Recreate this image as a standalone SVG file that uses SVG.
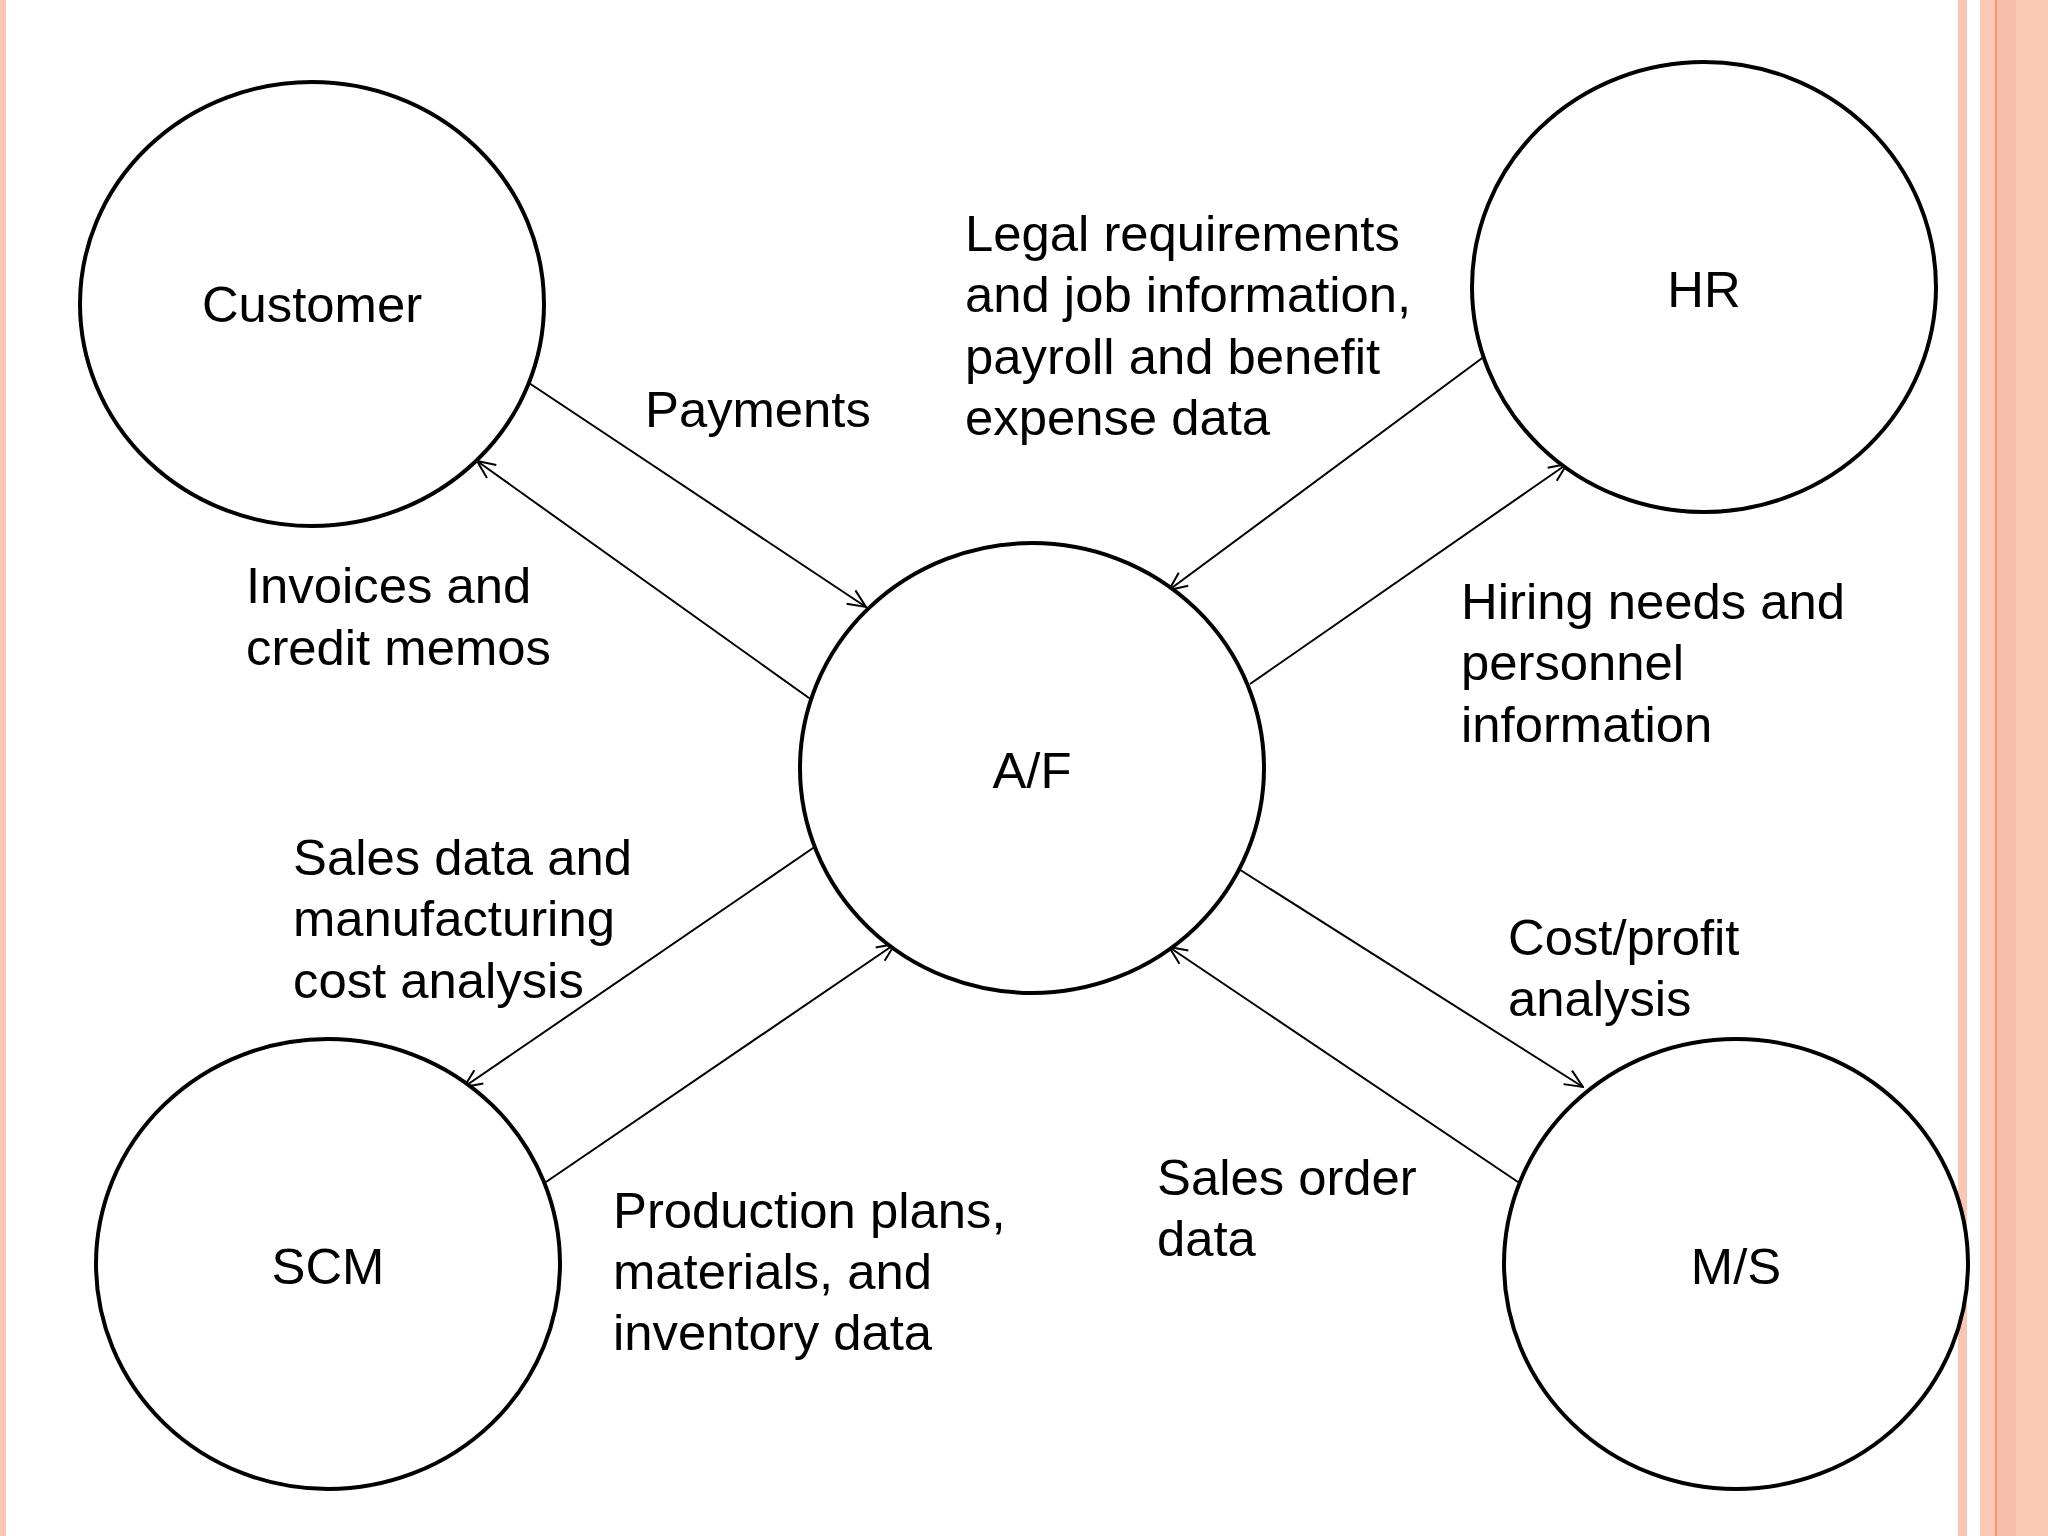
<svg xmlns="http://www.w3.org/2000/svg" width="2048" height="1536" viewBox="0 0 2048 1536">
<style>
.n{fill:#fff;stroke:#000;stroke-width:4}
.c{stroke:#000;stroke-width:2;fill:none;marker-end:url(#a)}
text{font-family:"Liberation Sans",Arial,sans-serif;font-size:50.8px;fill:#000}
.m{text-anchor:middle}
</style>
<defs><marker id="a" viewBox="0 0 20 20" refX="19" refY="10" markerWidth="20" markerHeight="20" markerUnits="userSpaceOnUse" orient="auto"><path d="M1,2 L19,10 L1,18" fill="none" stroke="#000" stroke-width="2"/></marker></defs>
<rect width="2048" height="1536" fill="#fff"/>
<rect x="0" y="0" width="6" height="1536" fill="#f9c6b4"/>
<rect x="1958" y="0" width="9" height="1536" fill="#f9c6b4"/>
<rect x="1980" y="0" width="68" height="1536" fill="#f9c9b6"/>
<rect x="1996" y="0" width="20" height="1536" fill="#f7bfab"/>
<line x1="1996" y1="0" x2="1996" y2="1536" stroke="#f08a50" stroke-width="1.5"/>
<g id="connectors">
<line class="c" x1="529" y1="383" x2="866" y2="607"/>
<line class="c" x1="816" y1="703" x2="477" y2="461"/>
<line class="c" x1="1489" y1="353" x2="1169" y2="590"/>
<line class="c" x1="1250" y1="684" x2="1567" y2="464"/>
<line class="c" x1="816" y1="846" x2="464" y2="1087"/>
<line class="c" x1="546" y1="1182" x2="895" y2="944"/>
<line class="c" x1="1234" y1="866" x2="1583" y2="1087"/>
<line class="c" x1="1518" y1="1182" x2="1169" y2="947"/>
</g>
<g id="customer"><ellipse class="n" cx="312" cy="304" rx="232" ry="222"/><text class="m" x="312" y="322">Customer</text></g>
<g id="hr"><ellipse class="n" cx="1704" cy="287" rx="232" ry="225"/><text class="m" x="1704" y="307">HR</text></g>
<g id="af"><ellipse class="n" cx="1032" cy="768" rx="232" ry="225"/><text class="m" x="1032" y="788">A/F</text></g>
<g id="scm"><ellipse class="n" cx="328" cy="1264" rx="232" ry="225"/><text class="m" x="328" y="1284">SCM</text></g>
<g id="ms"><ellipse class="n" cx="1736" cy="1264" rx="232" ry="225"/><text class="m" x="1736" y="1284">M/S</text></g>
<g id="labels">
<text x="645" y="427">Payments</text>
<text x="965" y="251">Legal requirements</text>
<text x="965" y="312">and job information,</text>
<text x="965" y="374">payroll and benefit</text>
<text x="965" y="435">expense data</text>
<text x="246" y="603">Invoices and</text>
<text x="246" y="665">credit memos</text>
<text x="1461" y="619">Hiring needs and</text>
<text x="1461" y="680">personnel</text>
<text x="1461" y="742">information</text>
<text x="293" y="875">Sales data and</text>
<text x="293" y="936">manufacturing</text>
<text x="293" y="998">cost analysis</text>
<text x="1508" y="955">Cost/profit</text>
<text x="1508" y="1016">analysis</text>
<text x="1157" y="1195">Sales order</text>
<text x="1157" y="1256">data</text>
<text x="613" y="1228">Production plans,</text>
<text x="613" y="1289">materials, and</text>
<text x="613" y="1350">inventory data</text>
</g>
</svg>
